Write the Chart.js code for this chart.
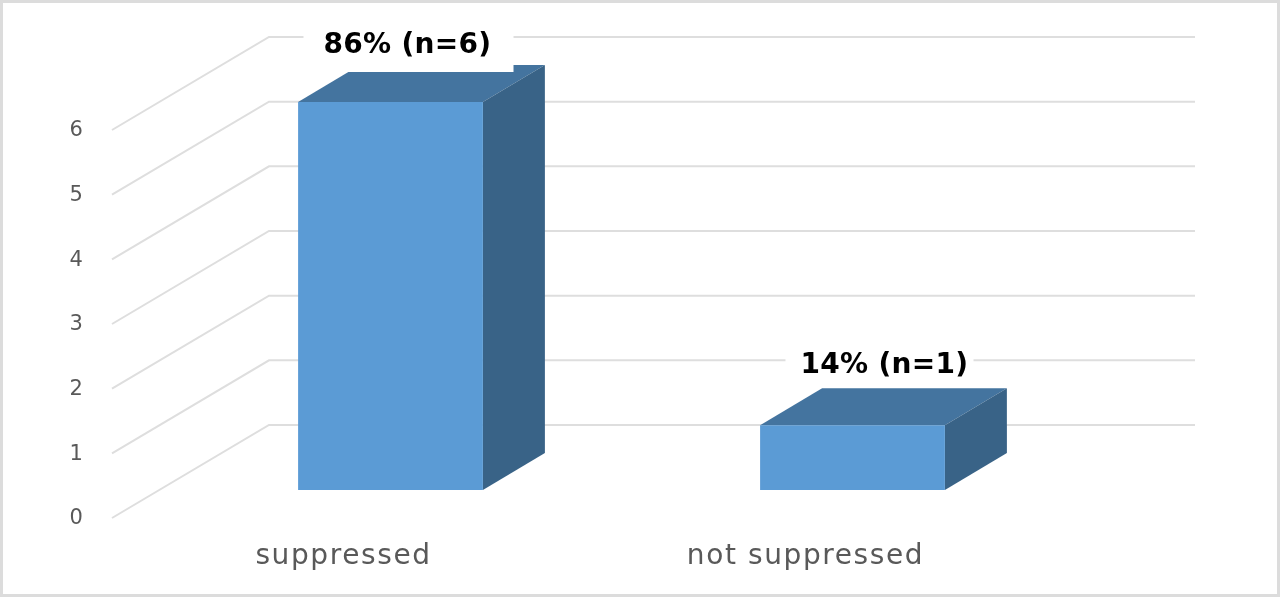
<!DOCTYPE html>
<html>
<head>
<meta charset="utf-8">
<style>html,body{margin:0;padding:0;background:#fff;overflow:hidden}canvas{display:block}</style>
<script src="https://cdn.jsdelivr.net/npm/chart.js@4"></script>
</head>
<body>
<canvas id="c" width="1280" height="597"></canvas>
<script>
const categories = ["suppressed", "not suppressed"];
const counts = [6, 1];
const barLabels = ["86% (n=6)", "14% (n=1)"];
const yTicks = [0, 1, 2, 3, 4, 5, 6];

const DEPTH_X = 62, DEPTH_Y = 37;        // bar depth
const WALL_DY = 65;                      // back wall above the bar front plane
const WALL_LEFT = 269, WALL_RIGHT = 1195, FLOOR_LEFT = 112, FLOOR_DY = 28;
const LABEL_OFFSET = [{x:17,y:-56,boxL:-87,boxR:123,boxB:-30},{x:32,y:-60,boxL:-67,boxR:121,boxB:-38}];

const depthPlugin = {
  id: 'depth',
  beforeDraw(chart){
    const c = chart.ctx;
    c.letterSpacing = '1.6px';
    c.save();
    c.fillStyle = '#fff'; c.fillRect(0,0,1280,597);
    c.strokeStyle = '#dcdcdc'; c.lineWidth = 3;
    c.strokeRect(1.5,1.5,1277,594);
    c.restore();
  },
  beforeDatasetsDraw(chart){
    const c = chart.ctx, y = chart.scales.y;
    c.save();
    c.strokeStyle = '#dedede'; c.lineWidth = 2;
    yTicks.forEach(v=>{
      const p = y.getPixelForValue(v);
      c.beginPath();
      c.moveTo(FLOOR_LEFT, p + FLOOR_DY);
      c.lineTo(WALL_LEFT, p - WALL_DY);
      c.lineTo(WALL_RIGHT, p - WALL_DY);
      c.stroke();
    });
    chart.getDatasetMeta(0).data.forEach(b=>{
      const l = b.x - b.width/2, r = b.x + b.width/2, t = b.y, bs = b.base;
      c.fillStyle = '#44749f';
      c.beginPath();
      c.moveTo(l,t); c.lineTo(l+DEPTH_X,t-DEPTH_Y); c.lineTo(r+DEPTH_X,t-DEPTH_Y); c.lineTo(r,t);
      c.closePath(); c.fill();
      c.fillStyle = '#396387';
      c.beginPath();
      c.moveTo(r,t); c.lineTo(r+DEPTH_X,t-DEPTH_Y); c.lineTo(r+DEPTH_X,bs-DEPTH_Y); c.lineTo(r,bs);
      c.closePath(); c.fill();
    });
    c.restore();
  },
  afterDatasetsDraw(chart){
    const c = chart.ctx;
    c.save();
    c.font = 'bold 28px "DejaVu Sans"';
    c.letterSpacing = '0.3px';
    c.textAlign = 'center'; c.textBaseline = 'middle';
    chart.getDatasetMeta(0).data.forEach((b,i)=>{
      const o = LABEL_OFFSET[i];
      c.fillStyle = '#fff';
      c.fillRect(b.x+o.boxL, b.y+o.boxB-50, o.boxR-o.boxL, 50);
      c.fillStyle = '#000';
      c.fillText(barLabels[i], b.x+o.x, b.y+o.y);
    });
    c.restore();
  }
};

new Chart(document.getElementById('c'), {
  type: 'bar',
  data: {
    labels: categories,
    datasets: [{ data: counts, backgroundColor: '#5b9bd5', borderWidth: 0, barPercentage: 0.4, categoryPercentage: 1 }]
  },
  plugins: [depthPlugin],
  options: {
    responsive: false,
    animation: false,
    events: [],
    layout: { padding: { top: 102, right: 196.5, left: 0, bottom: 0 } },
    plugins: { legend: { display: false }, tooltip: { enabled: false } },
    scales: {
      x: {
        grid: { display: false, drawTicks: false }, border: { display: false },
        afterFit(s){ s.height = 107; },
        ticks: { color: '#595959', font: { family: '"DejaVu Sans"', size: 28 }, padding: 50, labelOffset: -47, maxRotation: 0, autoSkip: false }
      },
      y: {
        min: 0, max: 6,
        afterFit(s){ s.width = 159.5; },
        grid: { display: false, drawTicks: false }, border: { display: false },
        ticks: { stepSize: 1, color: '#595959', font: { family: '"DejaVu Sans"', size: 21 }, padding: 75, labelOffset: 29 }
      }
    }
  }
});
</script>
</body>
</html>
